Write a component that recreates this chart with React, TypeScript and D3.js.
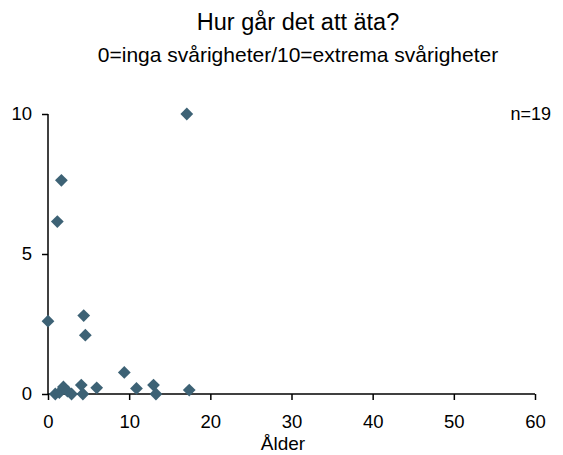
import React, { useRef, useEffect } from 'react';
import * as d3 from 'd3';

// ålder (år) och skattning 0-10
const ages = [17.1, 1.65, 1.15, 0, 4.4, 4.6, 9.4, 10.9, 13.0, 13.3, 17.4, 6.0, 4.1, 4.3, 0.9, 1.4, 1.9, 2.4, 2.9];
const scores = [10, 7.63, 6.16, 2.6, 2.8, 2.1, 0.77, 0.2, 0.32, 0, 0.14, 0.22, 0.32, 0, 0, 0.05, 0.25, 0.1, 0];
const xTicks = [0, 10, 20, 30, 40, 50, 60];
const yTicks = [0, 5, 10];

const title = 'Hur går det att äta?';
const subtitle = '0=inga svårigheter/10=extrema svårigheter';
const xLabel = 'Ålder';
const nLabel = 'n=19';

function App() {
  const ref = useRef<SVGSVGElement>(null);
  const width = 563;
  const height = 455;
  const margin = { top: 114, right: 28, bottom: 61, left: 48 };

  useEffect(() => {
    const svg = d3.select(ref.current);
    svg.selectAll('*').remove();
    const font = '"Liberation Sans", Arial, sans-serif';

    const x = d3.scaleLinear().domain([0, 60]).range([margin.left, width - margin.right]);
    const y = d3.scaleLinear().domain([0, 10]).range([height - margin.bottom, margin.top]);

    svg.append('text')
      .attr('x', 298).attr('y', 30)
      .attr('text-anchor', 'middle')
      .style('font-family', font).style('font-size', '23.5px')
      .text(title);
    svg.append('text')
      .attr('x', 298).attr('y', 62)
      .attr('text-anchor', 'middle')
      .style('font-family', font).style('font-size', '21px')
      .text(subtitle);

    const xAxis = svg.append('g')
      .attr('transform', `translate(0,${y(0)})`)
      .call(d3.axisBottom(x).tickValues(xTicks).tickSize(6).tickPadding(15));
    const yAxis = svg.append('g')
      .attr('transform', `translate(${x(0)},0)`)
      .call(d3.axisLeft(y).tickValues(yTicks).tickSize(6).tickPadding(10));

    [xAxis, yAxis].forEach((g) => {
      g.select('.domain').attr('stroke', '#000').attr('stroke-width', 1.5);
      g.selectAll('.tick line').attr('stroke', '#000').attr('stroke-width', 1.5);
      g.selectAll('.tick text')
        .attr('fill', '#000')
        .style('font-family', font).style('font-size', '18.5px');
    });
    xAxis.select('.domain').attr('d', `M${x(0)},0H${x(60)}`);
    yAxis.select('.domain').attr('d', `M0,${y(0)}V${y(10)}`);

    const pts = ages.map((a, i) => [a, scores[i]]);
    svg.append('g')
      .selectAll('path')
      .data(pts)
      .join('path')
      .attr('transform', (d) => `translate(${x(d[0])},${y(d[1])})`)
      .attr('d', d3.symbol().type(d3.symbolDiamond2).size(104)())
      .attr('fill', '#3d6275');

    svg.append('text')
      .attr('x', 283).attr('y', 450)
      .attr('text-anchor', 'middle')
      .style('font-family', font).style('font-size', '19px')
      .text(xLabel);

    svg.append('text')
      .attr('x', 551).attr('y', 120)
      .attr('text-anchor', 'end')
      .style('font-family', font).style('font-size', '18px')
      .text(nLabel);
  }, []);

  return (
    <svg ref={ref} width={width} height={height} style={{ position: 'absolute', left: 0, top: 0 }}></svg>
  );
}

export default App;
